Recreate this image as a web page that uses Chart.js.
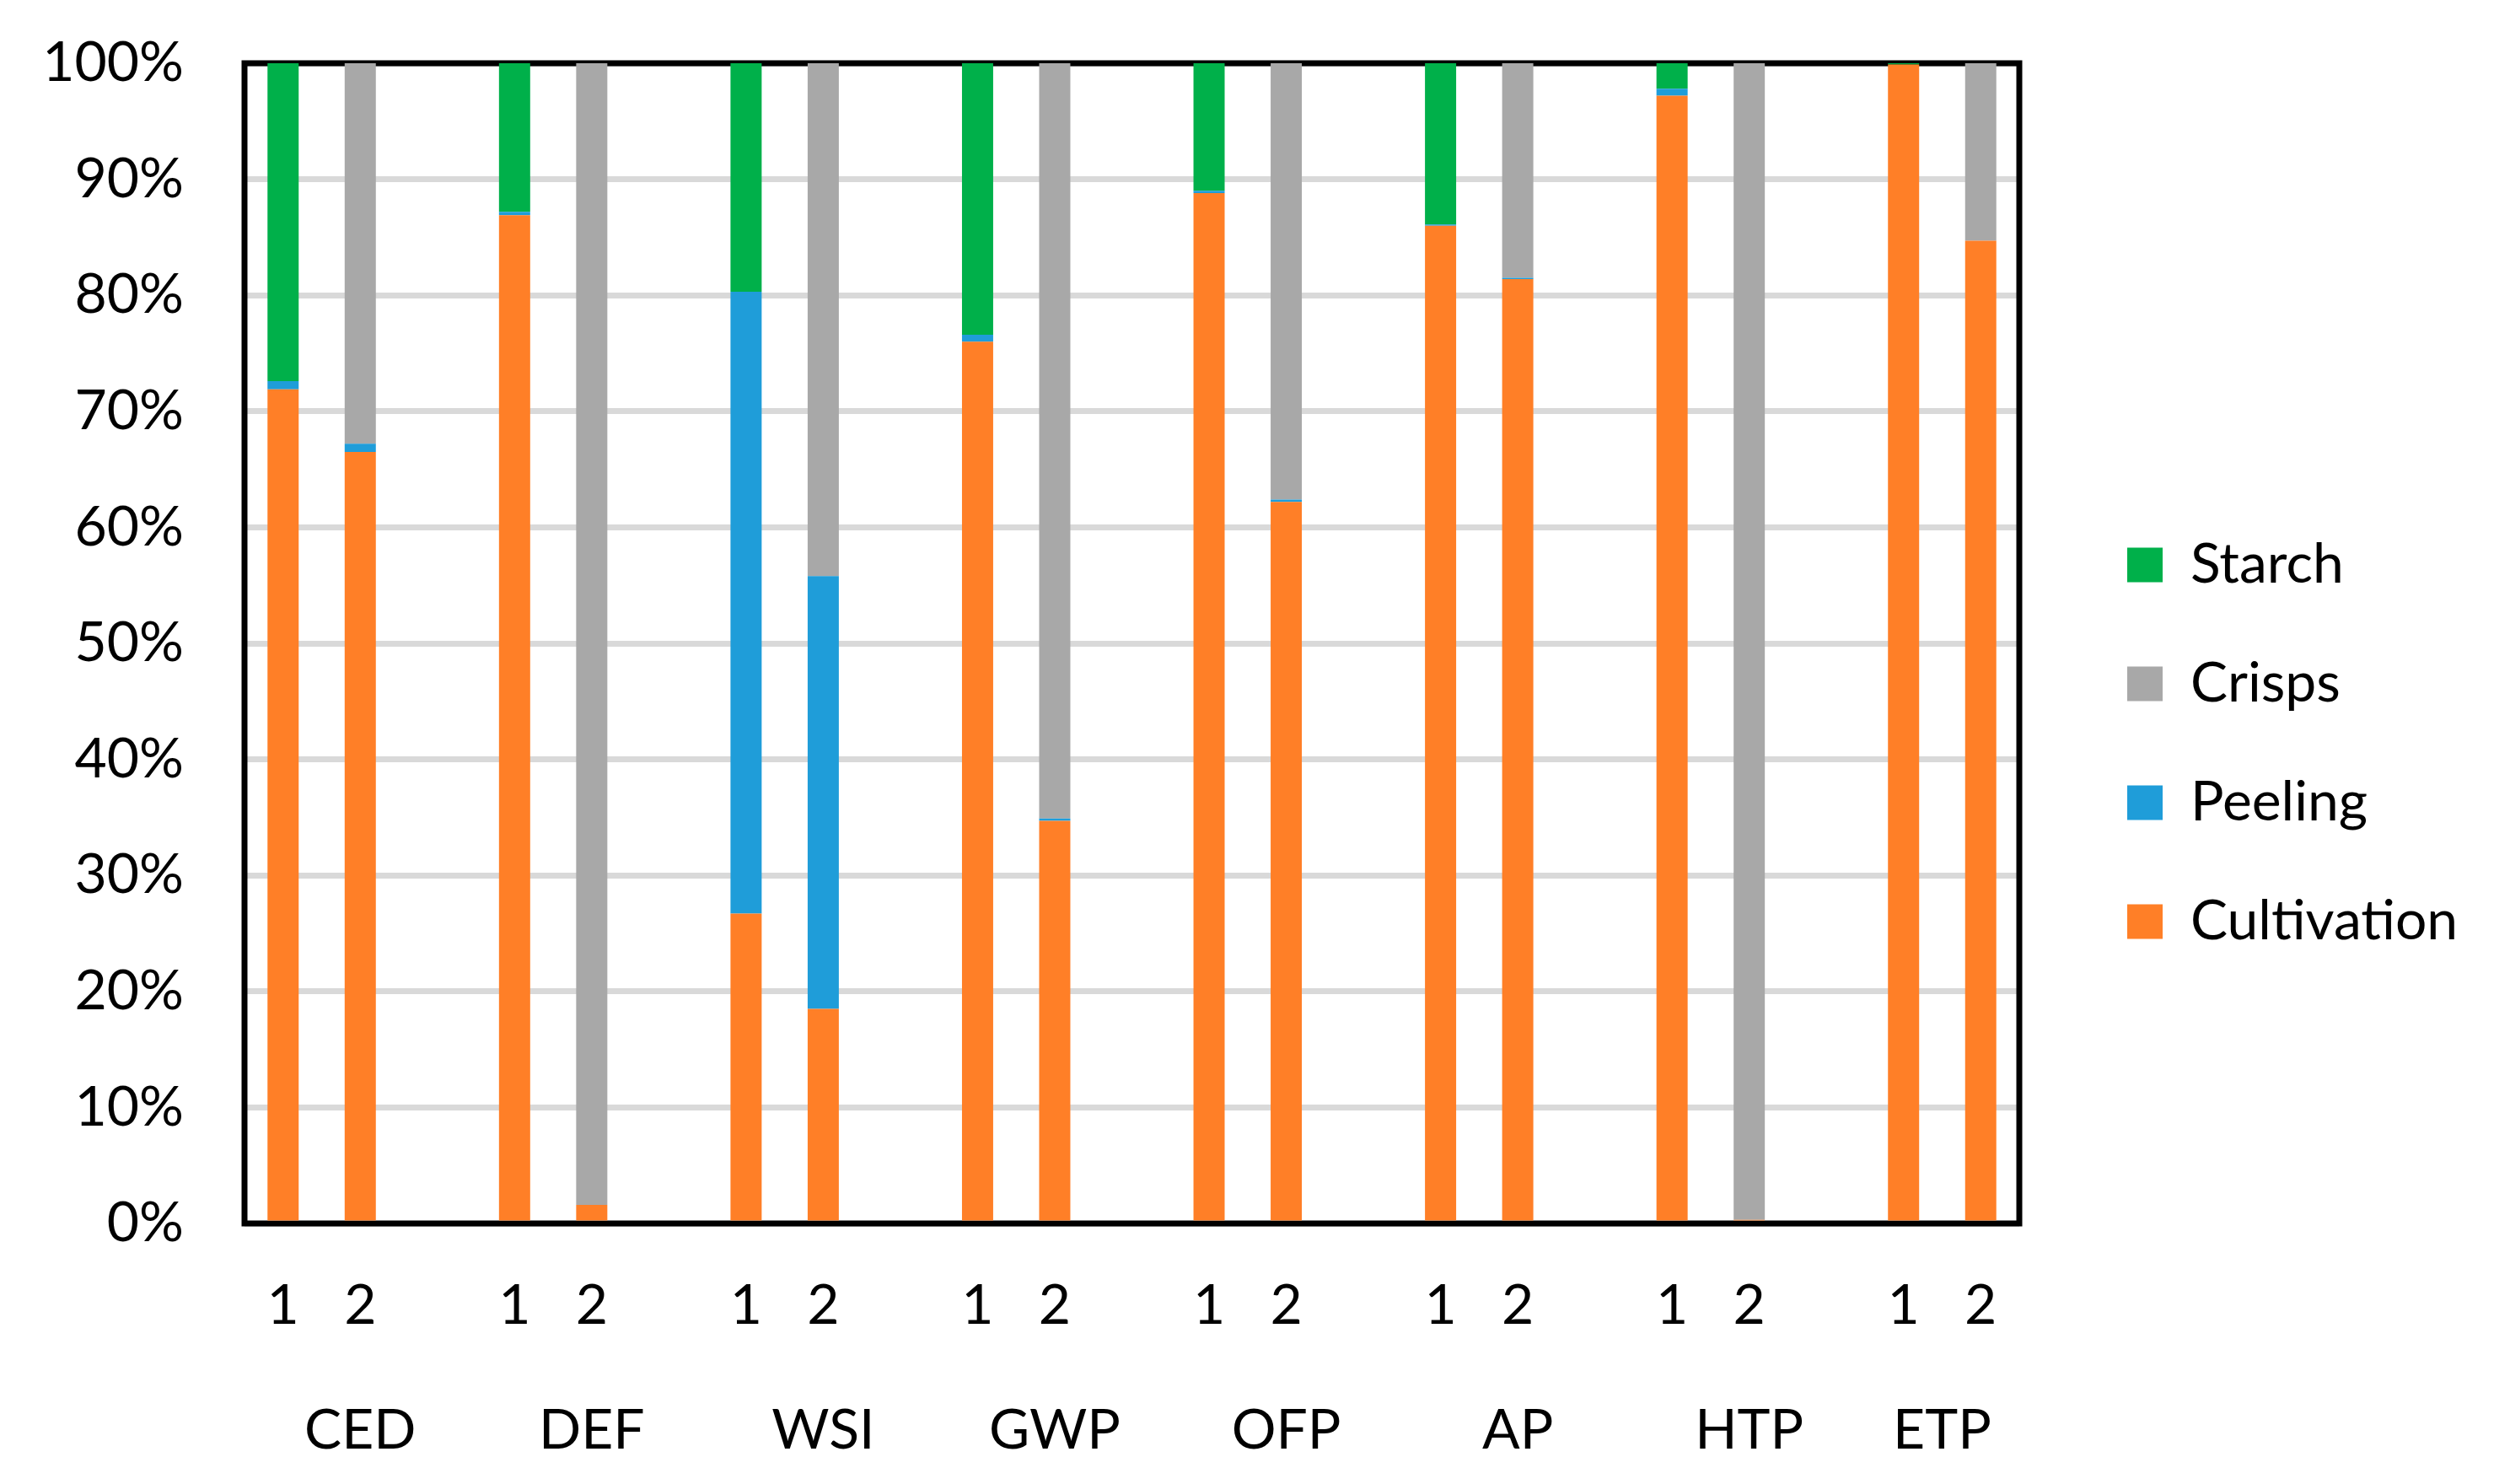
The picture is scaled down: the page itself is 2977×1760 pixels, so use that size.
<!DOCTYPE html>
<html>
<head>
<meta charset="utf-8">
<script src="https://cdn.jsdelivr.net/npm/chart.js@4.4.1/dist/chart.umd.min.js"></script>
<style>
html,body{margin:0;padding:0;background:#ffffff;overflow:hidden;}
#wrap{width:2977px;height:1760px;position:relative;}
</style>
</head>
<body>
<div id="wrap"><canvas id="c"></canvas></div>
<script>
// ---- data ----
const groups = ['CED','DEF','WSI','GWP','OFP','AP','HTP','ETP'];
const scenarios = ['1','2'];
const yTicks = [0,10,20,30,40,50,60,70,80,90,100];
// values per bar, in order CED1, CED2, DEF1, DEF2, ... ETP1, ETP2 (percent)
const cultivation = [71.9,66.5, 86.9,1.6, 26.7,18.5, 76.0,34.7, 88.8,62.2, 86.0,81.4, 97.2,0.3, 99.9,84.7];
const peeling     = [0.7,0.7,   0.3,0.0,  53.6,37.3, 0.6,0.2,   0.2,0.2,   0.1,0.1,   0.6,0.0,  0.0,0.0];
const crisps      = [0.0,32.8,  0.0,98.4, 0.0,44.2,  0.0,65.1,  0.0,37.6,  0.0,18.5,  0.0,99.7, 0.0,15.3];
const starch      = [27.4,0.0,  12.8,0.0, 19.7,0.0,  23.4,0.0,  11.0,0.0,  13.9,0.0,  2.2,0.0,  0.1,0.0];

// ---- build slotted category table (blank slot between groups) ----
const slotLabels = [];
const slotIndex = [];   // slot -> bar index or null
groups.forEach((g, gi) => {
  scenarios.forEach((s, si) => { slotLabels.push(s); slotIndex.push(gi * scenarios.length + si); });
  if (gi < groups.length - 1) { slotLabels.push(''); slotIndex.push(null); }
});
const slot = arr => slotIndex.map(i => i === null ? null : arr[i]);
const groupCenters = groups.map((g, gi) => {
  const start = gi * (scenarios.length + 1);
  const span = gi < groups.length - 1 ? scenarios.length + 1 : scenarios.length;
  return start + (span - 1) / 2;
});

Chart.defaults.font.family = 'Lato, "Open Sans", sans-serif';
Chart.defaults.font.size = 66;
Chart.defaults.color = '#000000';

const borderPlugin = {
  id: 'plotBorder',
  beforeDatasetsDraw(chart) {
    const a = chart.chartArea, ctx = chart.ctx;
    ctx.save();
    ctx.strokeStyle = '#000000';
    ctx.lineWidth = 7;
    ctx.strokeRect(a.left, a.top, a.right - a.left, a.bottom - a.top);
    ctx.restore();
  }
};
const legendPlace = {
  id: 'legendPlace',
  beforeLayout(chart) {
    const lg = chart.legend;
    if (lg && !lg.__patched) {
      const fit = lg.fit;
      lg.fit = function () { fit.call(this); this.width = 582; };
      lg.__patched = true;
    }
  },
  afterLayout(chart) {
    const lg = chart.legend;
    if (lg) { lg.left += 53; lg.right += 53; }
  }
};

const common = { categoryPercentage: 1.0, barPercentage: 0.404, borderWidth: 0, xAxisID: 'x', yAxisID: 'y' };

new Chart(document.getElementById('c'), {
  type: 'bar',
  data: {
    labels: slotLabels,
    datasets: [
      Object.assign({ label: 'Cultivation', data: slot(cultivation), backgroundColor: '#FF7F27' }, common),
      Object.assign({ label: 'Peeling', data: slot(peeling), backgroundColor: '#1F9DD9' }, common),
      Object.assign({ label: 'Crisps', data: slot(crisps), backgroundColor: '#A8A8A8' }, common),
      Object.assign({ label: 'Starch', data: slot(starch), backgroundColor: '#00B04A' }, common)
    ]
  },
  options: {
    responsive: true,
    maintainAspectRatio: false,
    devicePixelRatio: 1,
    animation: false,
    layout: { padding: { top: 35, right: 0, bottom: 32, left: 0 } },
    plugins: {
      legend: {
        position: 'right',
        align: 'center',
        reverse: true,
        labels: { boxWidth: 42, boxHeight: 41, padding: 75, font: { size: 66 }, color: '#000000' }
      },
      tooltip: { enabled: false },
      title: { display: false }
    },
    scales: {
      x: {
        type: 'category',
        position: 'bottom',
        stacked: true,
        weight: 0,
        grid: { display: false, drawTicks: false },
        border: { display: false },
        ticks: { autoSkip: false, maxRotation: 0, minRotation: 0, padding: 58, font: { size: 66 }, color: '#000000' },
        afterFit: s => { s.height = 200; }
      },
      x2: {
        type: 'linear',
        position: 'bottom',
        weight: 1,
        offset: false,
        bounds: 'data',
        min: -0.5,
        max: slotLabels.length - 0.5,
        grid: { display: false, drawTicks: false, offset: false },
        border: { display: false },
        afterBuildTicks: s => { s.ticks = groupCenters.map(v => ({ value: v })); },
        ticks: { autoSkip: false, maxRotation: 0, minRotation: 0, padding: 6, font: { size: 66 }, color: '#000000',
                 callback: (v, i) => groups[i] },
        afterFit: s => { s.height = 77; s.paddingLeft = 0; s.paddingRight = 0; }
      },
      y: {
        type: 'linear',
        stacked: true,
        min: 0,
        max: 100,
        afterBuildTicks: s => { s.ticks = yTicks.map(v => ({ value: v })); },
        grid: { color: '#D9D9D9', lineWidth: 7, drawTicks: false },
        border: { display: false },
        ticks: { padding: 72, font: { size: 66 }, color: '#000000', callback: v => v + '%' },
        afterFit: s => { s.width = 290; s.paddingTop = 75; s.paddingBottom = 0; }
      }
    }
  },
  plugins: [borderPlugin, legendPlace]
});
</script>
</body>
</html>
